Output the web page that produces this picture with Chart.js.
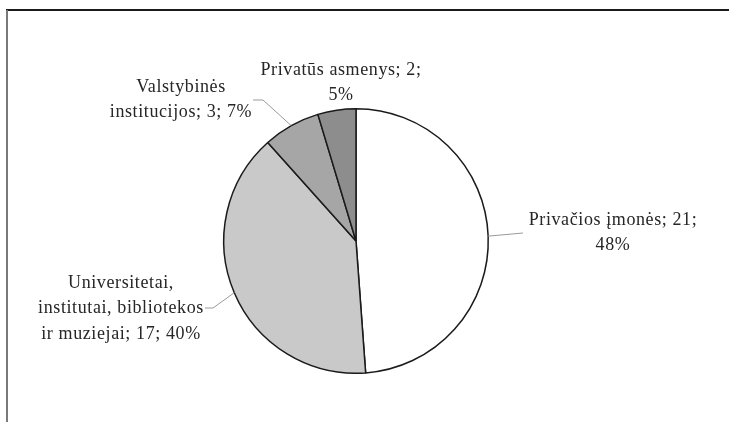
<!DOCTYPE html>
<html>
<head>
<meta charset="utf-8">
<script src="https://cdn.jsdelivr.net/npm/chart.js@4.4.1/dist/chart.umd.min.js"></script>
<style>
html,body{margin:0;padding:0;background:#fff}
#wrap{width:729px;height:422px;position:relative}
</style>
</head>
<body>
<div id="wrap"><canvas id="chart" width="729" height="422"></canvas></div>
<script>
// categories and values
const categories = ['Privačios įmonės', 'Universitetai, institutai, bibliotekos ir muziejai', 'Valstybinės institucijos', 'Privatūs asmenys']
const counts = [21, 17, 3, 2]
const percents = [48, 40, 7, 5]
const sliceColors = ['#ffffff', '#c9c9c9', '#a6a6a6', '#8d8d8d']

// label text lines per slice, and where each block sits
const labelLines = [
	['Privačios įmonės; ' + counts[0] + ';', percents[0] + '%'],
	['Universitetai,', 'institutai, bibliotekos', 'ir muziejai; ' + counts[1] + '; ' + percents[1] + '%'],
	['Valstybinės', 'institucijos; ' + counts[2] + '; ' + percents[2] + '%'],
	['Privatūs asmenys; ' + counts[3] + ';', percents[3] + '%']
]
const labelPos = [
	{ x: 613, y: 220, lead: [[523, 233]] },
	{ x: 121, y: 283, lead: [[205, 308], [213, 308]] },
	{ x: 181, y: 87, lead: [[253, 100], [263, 100]] },
	{ x: 341, y: 70, lead: null }
]
const lineH = 25.5

const labelsPlugin = {
	id: 'pieLabels',
	beforeDraw(chart){
		const ctx = chart.ctx
		ctx.save()
		// frame: top rule and left rule
		ctx.strokeStyle = '#1a1a1a'; ctx.lineWidth = 2
		ctx.beginPath(); ctx.moveTo(6, 10); ctx.lineTo(729, 10); ctx.stroke()
		ctx.strokeStyle = '#7a7a7a'; ctx.lineWidth = 2
		ctx.beginPath(); ctx.moveTo(7, 10); ctx.lineTo(7, 422); ctx.stroke()
		ctx.restore()
	},
	afterDatasetsDraw(chart){
		const ctx = chart.ctx
		const arcs = chart.getDatasetMeta(0).data
		ctx.save()
		arcs.forEach((arc, i) => {
			const p = labelPos[i]
			if(p.lead){
				const mid = (arc.startAngle + arc.endAngle) / 2
				const ex = arc.x + Math.cos(mid) * arc.outerRadius
				const ey = arc.y + Math.sin(mid) * arc.outerRadius
				ctx.strokeStyle = '#9a9a9a'; ctx.lineWidth = 1
				ctx.beginPath(); ctx.moveTo(ex, ey)
				p.lead.slice().reverse().forEach(pt => ctx.lineTo(pt[0], pt[1]))
				ctx.stroke()
			}
			ctx.fillStyle = '#262626'
			ctx.font = '18px "Liberation Serif", "Times New Roman", serif'
			ctx.textAlign = 'center'; ctx.textBaseline = 'middle'
			try { ctx.letterSpacing = '0.6px' } catch(e){}
			labelLines[i].forEach((t, k) => ctx.fillText(t, p.x, p.y + k * lineH))
		})
		ctx.restore()
	}
}

new Chart(document.getElementById('chart').getContext('2d'), {
	type: 'pie',
	data: {
		labels: categories,
		datasets: [{ data: counts, backgroundColor: sliceColors, borderColor: '#1a1a1a', borderWidth: 1.5 }]
	},
	options: {
		responsive: false,
		animation: false,
		layout: { padding: { top: 108, bottom: 48, left: 200, right: 217 } },
		plugins: { legend: { display: false }, tooltip: { enabled: false } }
	},
	plugins: [labelsPlugin]
})
</script>
</body>
</html>
